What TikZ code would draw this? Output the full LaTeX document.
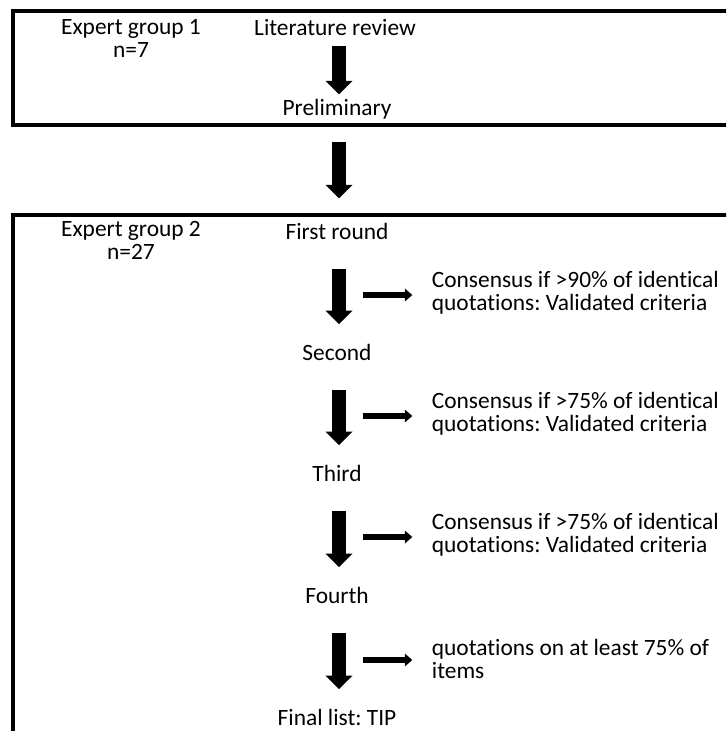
\documentclass[tikz,border=0pt]{standalone}
\usepackage{fontspec}
\setmainfont{Carlito}[Ligatures=CommonOff]
\frenchspacing
\usetikzlibrary{arrows.meta}
\begin{document}
\frenchspacing
\begin{tikzpicture}[x=1pt,y=-1pt,
  txt/.style={font=\fontsize{23.4}{22.8}\selectfont\frenchspacing, inner sep=0pt},
  frame/.style={line width=4pt},
  downarrow/.style={line width=14pt, -{Triangle[width=27pt,length=13.5pt,line width=0pt]}},
  sidearrow/.style={line width=6pt, -{Triangle[width=13pt,length=7.5pt,line width=0pt]}}]
\useasboundingbox (0,0) rectangle (726,731);
\clip (0,0) rectangle (726,731);
% frames
\draw[frame] (740,11.3) -- (12.7,11.3) -- (12.7,124.5) -- (740,124.5);
\draw[frame] (740,215.3) -- (12.7,215.3) -- (12.7,745);
% left labels (base = last line)
\node[txt,align=center,anchor=base] (eg1) at (131,57.5) {Expert group 1\\n=7};
\node[txt,align=center,anchor=base] (eg2) at (131,259.5) {Expert group 2\\n=27};
% centre column
\node[txt,anchor=base] (lit) at (335,35) {Literature review};
\node[txt,anchor=base] (prel) at (337,115) {Preliminary};
\node[txt,anchor=base] (first) at (337,239) {First round};
\node[txt,anchor=base] (second) at (337,360) {Second};
\node[txt,anchor=base] (third) at (337,481) {Third};
\node[txt,anchor=base] (fourth) at (337,603) {Fourth};
\node[txt,anchor=base] (final) at (337,725) {Final list: TIP};
% right texts (base = last line)
\node[txt,align=left,anchor=base west] (c1) at (431.7,310.5) {Consensus if >90\% of identical\\quotations: Validated criteria};
\node[txt,align=left,anchor=base west] (c2) at (431.7,431.5) {Consensus if >75\% of identical\\quotations: Validated criteria};
\node[txt,align=left,anchor=base west] (c3) at (431.7,552.5) {Consensus if >75\% of identical\\quotations: Validated criteria};
\node[txt,align=left,anchor=base west] (c4) at (431.7,678.5) {quotations on at least 75\% of\\items};
% down arrows
\draw[downarrow] ([xshift=4pt,yshift=-10.7pt]lit.base) -- ([xshift=2pt,yshift=20.7pt]prel.base);
\draw[downarrow] ([xshift=2pt,yshift=-26.7pt]prel.base) -- ([xshift=2pt,yshift=40.7pt]first.base);
\draw[downarrow] ([xshift=2pt,yshift=-30.3pt]first.base) -- ([xshift=2pt,yshift=36pt]second.base);
\draw[downarrow] ([xshift=2pt,yshift=-30.3pt]second.base) -- ([xshift=2pt,yshift=36pt]third.base);
\draw[downarrow] ([xshift=2pt,yshift=-30.3pt]third.base) -- ([xshift=2pt,yshift=36pt]fourth.base);
\draw[downarrow] ([xshift=2pt,yshift=-30.3pt]fourth.base) -- ([xshift=2pt,yshift=36pt]final.base);
% side arrows
\coordinate (s1) at (362.7,295); \coordinate (e1) at (412.3,295);
\coordinate (s2) at (362.7,416); \coordinate (e2) at (412.3,416);
\coordinate (s3) at (362.7,537); \coordinate (e3) at (412.3,537);
\coordinate (s4) at (362.7,660); \coordinate (e4) at (412.3,660);
\draw[sidearrow] (s1) -- (e1);
\draw[sidearrow] (s2) -- (e2);
\draw[sidearrow] (s3) -- (e3);
\draw[sidearrow] (s4) -- (e4);
\end{tikzpicture}
\end{document}
